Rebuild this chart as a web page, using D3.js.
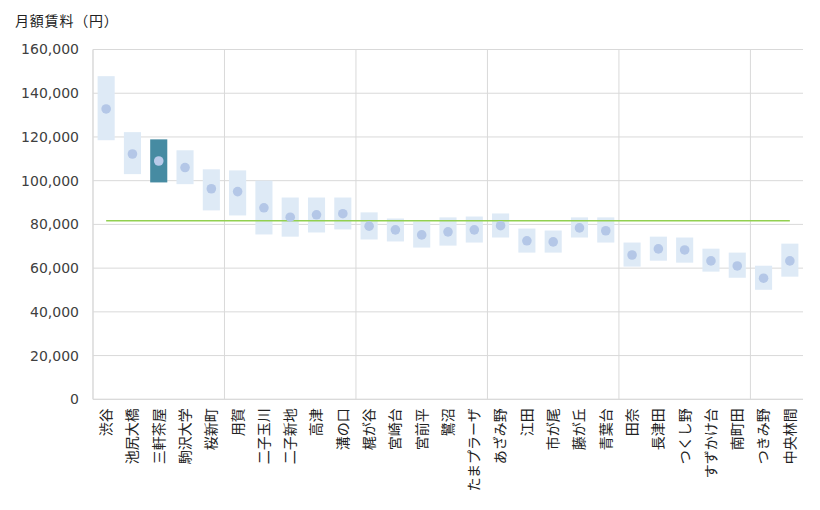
<!DOCTYPE html>
<html><head><meta charset="utf-8">
<script src="https://cdn.jsdelivr.net/npm/d3@7"></script>
<style>body{margin:0;background:#fff}svg{display:block}</style>
</head><body>
<svg id="c" width="820" height="510"></svg>
<script>
const stations = ["渋谷","池尻大橋","三軒茶屋","駒沢大学","桜新町","用賀","二子玉川","二子新地","高津","溝の口","梶が谷","宮崎台","宮前平","鷺沼","たまプラーザ","あざみ野","江田","市が尾","藤が丘","青葉台","田奈","長津田","つくし野","すずかけ台","南町田","つきみ野","中央林間"];
const highs = [147800,122200,118900,113900,105200,104700,100000,92300,92300,92300,85500,82700,81300,83200,83600,85000,78100,77200,83200,83200,71700,74400,74000,68900,67100,61100,71200];
const lows  = [118500,103000,99200,98400,86400,84100,75400,74400,76300,77700,73100,72200,69400,70300,71700,74000,67100,67100,74000,71700,60700,63400,62500,58400,55600,50100,56100];
const avgs  = [132800,112200,109000,106000,96300,95000,87600,83300,84400,84900,79200,77500,75200,76600,77500,79400,72500,72000,78400,77100,66000,68800,68300,63300,61000,55400,63300];
const overallAvg = 81700;
const highlight = "三軒茶屋";
const yTicks = [0,20000,40000,60000,80000,100000,120000,140000,160000];
const yTitle = "月額賃料（円）";

const svg = d3.select("#c");
const m = {l:93, r:17, t:49.5, b:399.3};
const x = d3.scaleBand().domain(stations).range([m.l, 820-m.r]).paddingInner(0.35).paddingOuter(0.175);
const xb = d3.scaleLinear().domain([0, stations.length]).range([m.l, 820-m.r]);
const y = d3.scaleLinear().domain([0,160000]).range([m.b, m.t]);
const font = "'DejaVu Sans','Noto Sans CJK JP',sans-serif";
const grid = "#d9d9d9";

// horizontal gridlines
svg.append("g").selectAll("line").data(yTicks).join("line")
  .attr("x1", m.l).attr("x2", 820-m.r)
  .attr("y1", d=>y(d)).attr("y2", d=>y(d))
  .attr("stroke", grid).attr("stroke-width",1);
// vertical gridlines every 5 categories
svg.append("g").selectAll("line").data(d3.range(0, stations.length, 5)).join("line")
  .attr("x1", d=>xb(d)).attr("x2", d=>xb(d))
  .attr("y1", m.t).attr("y2", m.b)
  .attr("stroke", grid).attr("stroke-width",1);

// y axis labels
const ya = d3.axisLeft(y).tickValues(yTicks).tickSize(0).tickPadding(14).tickFormat(d3.format(","));
const yg = svg.append("g").attr("transform",`translate(${m.l},0)`).call(ya);
yg.select(".domain").remove();
yg.selectAll("text").attr("font-family",font).attr("font-size",14).attr("fill","#404040");

// range boxes
svg.append("g").selectAll("rect").data(stations).join("rect")
  .attr("x", d=>x(d)).attr("width", x.bandwidth())
  .attr("y", (d,i)=>y(highs[i])).attr("height",(d,i)=>y(lows[i])-y(highs[i]))
  .attr("fill", d=>d===highlight?"#468ba2":"#deeaf6");

// average line
svg.append("line")
  .attr("x1", x(stations[0])+x.bandwidth()/2).attr("x2", x(stations[stations.length-1])+x.bandwidth()/2)
  .attr("y1", y(overallAvg)).attr("y2", y(overallAvg))
  .attr("stroke","#92d050").attr("stroke-width",1.5);

// dots
svg.append("g").selectAll("circle").data(stations).join("circle")
  .attr("cx", d=>x(d)+x.bandwidth()/2).attr("cy",(d,i)=>y(avgs[i])).attr("r",4.8)
  .attr("fill", d=>d===highlight?"#b9cbea":"#b4c7e7");

// axis lines
svg.append("line").attr("x1",m.l).attr("x2",820-m.r).attr("y1",m.b).attr("y2",m.b).attr("stroke",grid);
svg.append("line").attr("x1",m.l).attr("x2",m.l).attr("y1",m.t).attr("y2",m.b).attr("stroke",grid);

// x labels rotated
const xa = d3.axisBottom(x).tickSize(0).tickPadding(0);
const xg = svg.append("g").attr("transform",`translate(0,${m.b})`).call(xa);
xg.select(".domain").remove();
xg.selectAll("text")
  .attr("font-family","'Noto Sans CJK JP',sans-serif").attr("font-size",14).attr("fill","#222")
  .attr("text-anchor","end").attr("dy","0.35em").attr("y",0)
  .attr("transform","translate(0,9) rotate(-90)");

// title
svg.append("text").attr("x",15).attr("y",26).attr("font-family","'Noto Sans CJK JP',sans-serif")
  .attr("font-size",14).attr("letter-spacing","0.8px").attr("fill","#222").text(yTitle);
</script>
</body></html>
